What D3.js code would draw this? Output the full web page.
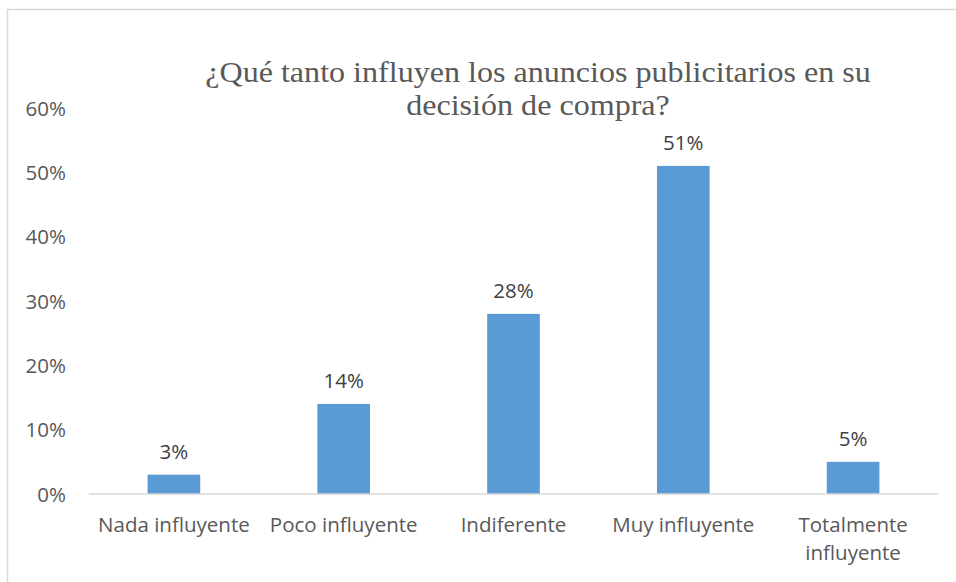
<!DOCTYPE html>
<html>
<head>
<meta charset="utf-8">
<script src="https://cdn.jsdelivr.net/npm/d3@7"></script>
<style>
  html, body { margin: 0; padding: 0; background: #fff; }
  svg { display: block; }
</style>
</head>
<body>
<svg id="chart" width="956" height="582"></svg>
<script>
// Survey answers and their shares (%)
const categories = ["Nada influyente", "Poco influyente", "Indiferente", "Muy influyente", "Totalmente influyente"];
const categoryLines = [["Nada influyente"], ["Poco influyente"], ["Indiferente"], ["Muy influyente"], ["Totalmente", "influyente"]];
const values = [3, 14, 28, 51, 5];
const yTicks = [0, 10, 20, 30, 40, 50, 60];
const titleLines = ["¿Qué tanto influyen los anuncios publicitarios en su", "decisión de compra?"];

const svg = d3.select("#chart");
const W = 956, H = 582;
const plot = { left: 89, right: 938, top: 108, bottom: 494 };

// Chart frame (only the top and left edges fall inside the view)
svg.append("rect")
  .attr("x", 7.5).attr("y", 9.5)
  .attr("width", W + 10).attr("height", H + 10)
  .attr("fill", "#fff")
  .attr("stroke", "#d9d9d9").attr("stroke-width", 1.5);

const x = d3.scaleBand().domain(categories).range([plot.left, plot.right]).paddingInner(0.69).paddingOuter(0.345);
const y = d3.scaleLinear().domain([0, 60]).range([plot.bottom, plot.top]);

const sans = "'Open Sans', 'Noto Sans', sans-serif";
const fs = 20.5;

// Y axis labels
const yAxis = d3.axisLeft(y).tickValues(yTicks).tickFormat(d => d + "%").tickSize(0).tickPadding(0);
const gy = svg.append("g").attr("transform", `translate(${plot.left - 23},0)`).call(yAxis);
gy.select(".domain").remove();
gy.selectAll("text")
  .attr("font-family", sans).attr("font-size", fs).attr("fill", "#595959")
  .attr("dy", "0.35em");

// Bars
svg.append("g").selectAll("rect")
  .data(values)
  .join("rect")
  .attr("x", (d, i) => x(categories[i]))
  .attr("y", d => y(d))
  .attr("width", x.bandwidth())
  .attr("height", d => y(0) - y(d))
  .attr("fill", "#5b9bd5");

// Baseline
const xAxis = d3.axisBottom(x).tickSize(0).tickFormat("");
const gx = svg.append("g").attr("transform", `translate(0,${plot.bottom})`).call(xAxis);
gx.select(".domain").attr("stroke", "#d9d9d9").attr("stroke-width", 1.5)
  .attr("d", `M${plot.left},0H${plot.right}`);

// Category labels (wrapped where needed)
const catG = svg.append("g");
categories.forEach((c, i) => {
  const cx = x(c) + x.bandwidth() / 2;
  const t = catG.append("text")
    .attr("x", cx)
    .attr("y", plot.bottom + 38)
    .attr("text-anchor", "middle")
    .attr("font-family", sans).attr("font-size", fs).attr("fill", "#595959");
  categoryLines[i].forEach((line, k) => {
    t.append("tspan").attr("x", cx).attr("dy", k === 0 ? 0 : 28).text(line);
  });
});

// Data labels
svg.append("g").selectAll("text")
  .data(values)
  .join("text")
  .attr("x", (d, i) => x(categories[i]) + x.bandwidth() / 2)
  .attr("y", d => y(d) - 16)
  .attr("text-anchor", "middle")
  .attr("font-family", sans).attr("font-size", fs).attr("fill", "#404040")
  .text(d => d + "%");

// Title (serif, slightly widened)
const title = svg.append("text")
  .attr("transform", "translate(538,0) scale(1.07,1)")
  .attr("x", 0).attr("y", 82)
  .attr("text-anchor", "middle")
  .attr("font-family", "'Liberation Serif', 'Times New Roman', serif")
  .attr("font-size", 30).attr("fill", "#595959");
titleLines.forEach((line, k) => {
  title.append("tspan").attr("x", 0).attr("dy", k === 0 ? 0 : 33).text(line);
});
</script>
</body>
</html>
